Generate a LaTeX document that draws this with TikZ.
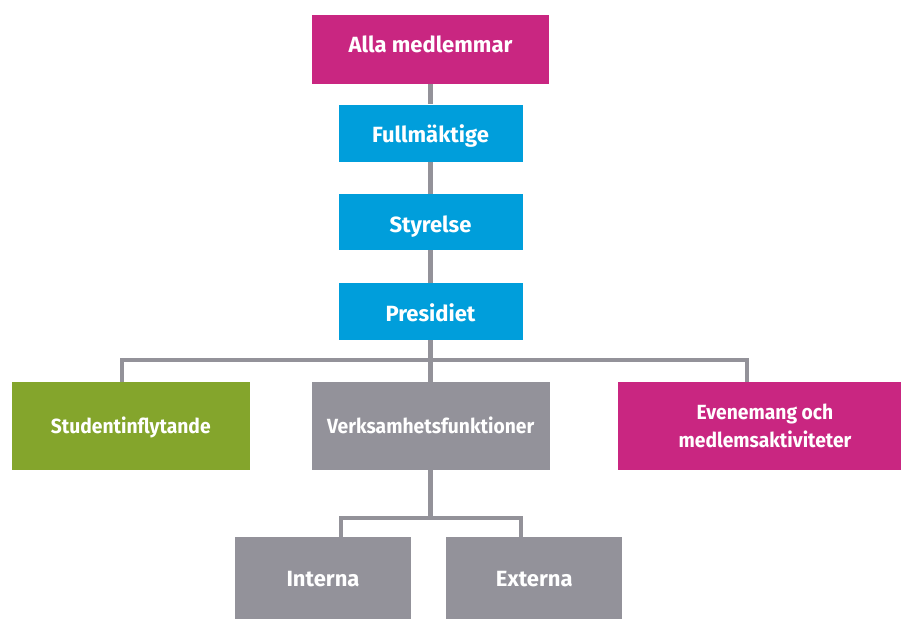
\documentclass[tikz,border=0pt]{standalone}
\usepackage{fontspec}
\usetikzlibrary{backgrounds}
\newfontfamily\topfont{Fira Sans}
\newfontfamily\rowfont{Fira Sans}[FakeStretch=0.94]
\definecolor{cmag}{HTML}{C92681}
\definecolor{cblue}{HTML}{009EDB}
\definecolor{cgreen}{HTML}{84A52C}
\definecolor{cgray}{HTML}{93929A}
\definecolor{cline}{HTML}{939299}
\begin{document}
\begin{tikzpicture}[x=1pt,y=-1pt,
  box/.style={rectangle, inner sep=0pt, text=white, align=center},
  topbox/.style={box, font=\topfont\bfseries\fontsize{22}{27}\selectfont,
    text height=15.2pt, text depth=0pt},
  rowbox/.style={box, font=\rowfont\bfseries\fontsize{20.5}{28}\selectfont},
  conn/.style={draw=cline, line width=4.5pt}]
\clip (0,0) rectangle (901,619);
% nodes
\node[topbox, fill=cmag, minimum width=237pt, minimum height=69pt, text depth=8.6pt] (alla) at (430.5,49.5) {Alla medlemmar};
\node[topbox, fill=cblue, minimum width=184pt, minimum height=57pt, text height=18.2pt] (full) at (430.5,133) {Fullmäktige};
\node[topbox, fill=cblue, minimum width=184pt, minimum height=56pt, text height=20.2pt] (styr) at (430.5,222) {Styrelse};
\node[topbox, fill=cblue, minimum width=184pt, minimum height=57pt, text height=20.2pt] (pres) at (430.5,311.5) {Presidiet};
\node[rowbox, fill=cgreen, minimum width=238.5pt, minimum height=88pt, text height=14.1pt, text depth=0pt] (stud) at (130.75,426) {Studentinflytande};
\node[rowbox, fill=cgray, minimum width=238.5pt, minimum height=88pt, text height=14.1pt, text depth=0pt] (verk) at (430.75,426) {Verksamhetsfunktioner};
\node[rowbox, fill=cmag, minimum width=294pt, minimum height=88pt] (even) at (765,426) {Evenemang och\\medlemsaktiviteter};
\node[topbox, fill=cgray, minimum width=176pt, minimum height=82pt, text height=16.5pt] (intr) at (323,578) {Interna};
\node[topbox, fill=cgray, minimum width=176pt, minimum height=82pt, text height=16.5pt] (extr) at (534.25,578) {Externa};
% bend points
\coordinate (hl) at (122,360);
\coordinate (hr) at (747,360);
\coordinate (hm) at (430.5,360);
\coordinate (ll) at (341,518);
\coordinate (lr) at (521,518);
\coordinate (lm) at (430.5,518);
% connectors (behind the boxes)
\begin{scope}[on background layer]
\draw[conn] (alla.south) -- (full.north);
\draw[conn] (full.south) -- (styr.north);
\draw[conn] (styr.south) -- (pres.north);
\draw[conn] (pres.south) -- (hm) -- (verk.north -| hm);
\draw[conn] (hl |- stud.north) -- (hl) -- (hr) -- (hr |- even.north);
\draw[conn] (verk.south -| lm) -- (lm);
\draw[conn] (ll |- intr.north) -- (ll) -- (lr) -- (lr |- extr.north);
\end{scope}
\end{tikzpicture}
\end{document}
